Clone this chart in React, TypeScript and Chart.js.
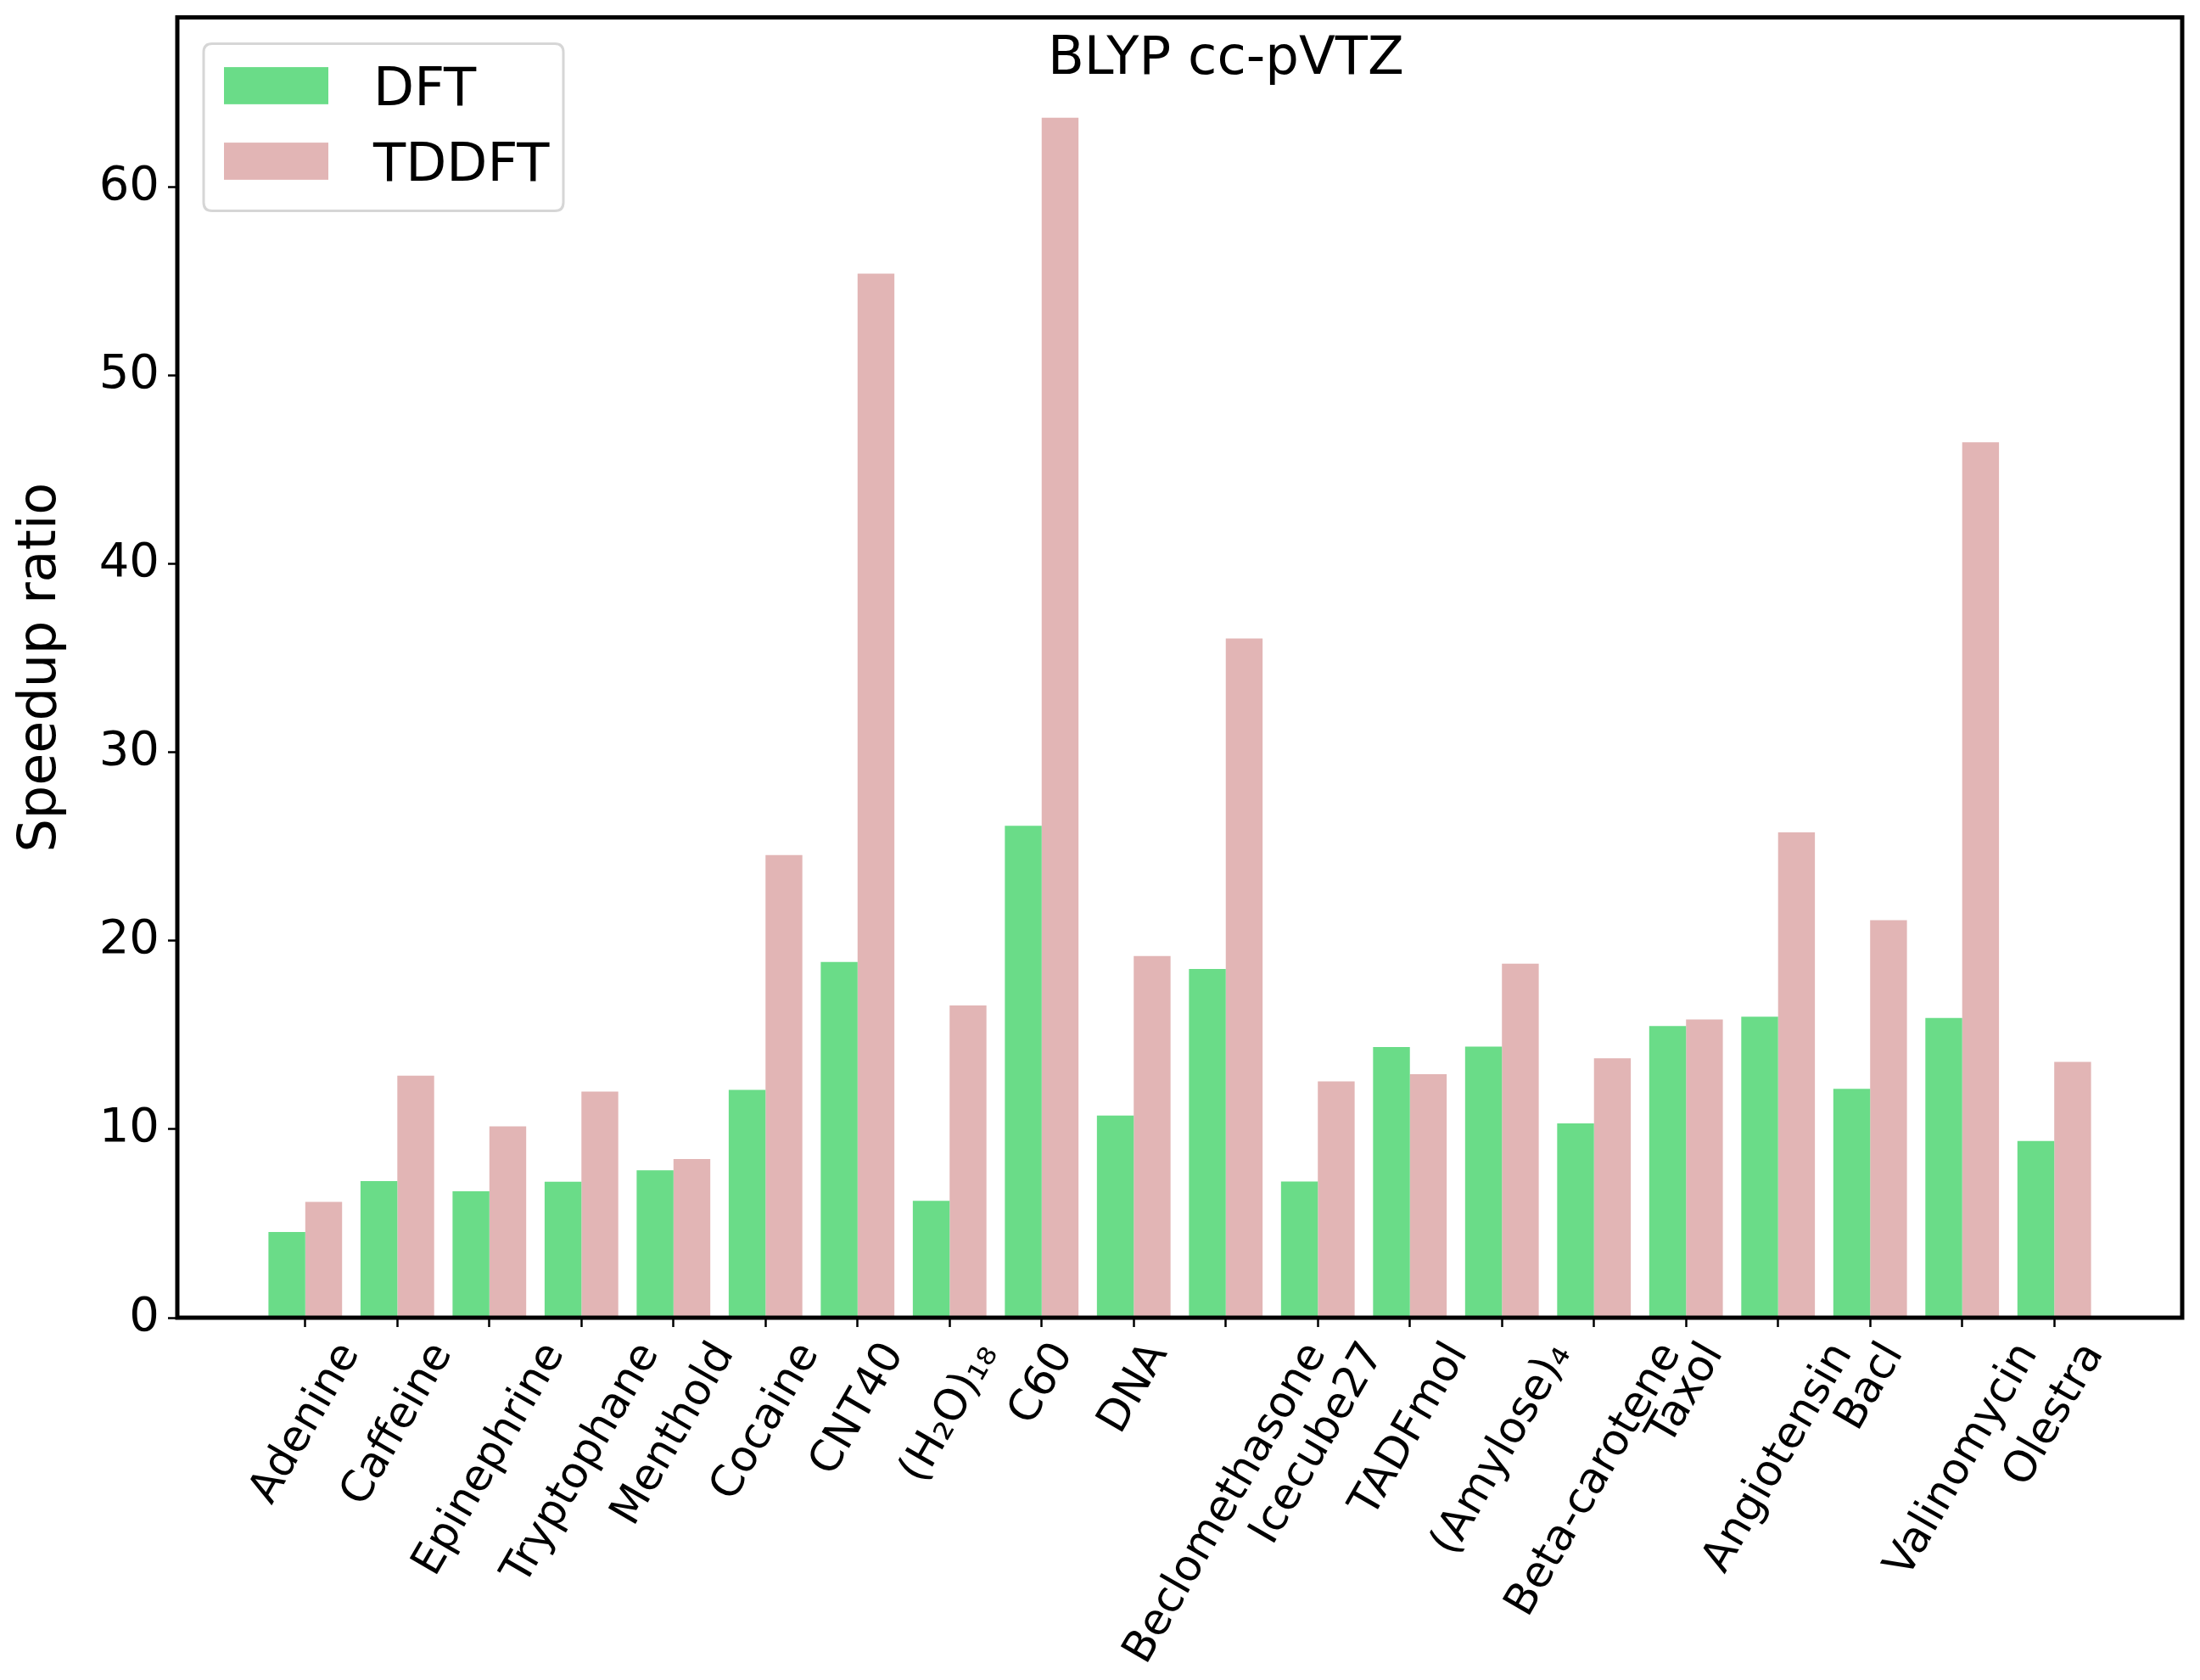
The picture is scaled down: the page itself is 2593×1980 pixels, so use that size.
import React, { useEffect, useRef } from 'react';
import { Chart, registerables } from 'chart.js';

Chart.register(...registerables);

const categories = [
  'Adenine', 'Caffeine', 'Epinephrine', 'Tryptophane', 'Menthold', 'Cocaine', 'CNT40',
  '(H₂O)₁₈', 'C60', 'DNA', 'Beclomethasone', 'Icecube27', 'TADFmol', '(Amylose)₄',
  'Beta-carotene', 'Taxol', 'Angiotensin', 'Bacl', 'Valinomycin', 'Olestra',
];
const dftValues = [
  4.55, 7.25, 6.71, 7.22, 7.82, 12.09, 18.88, 6.2, 26.1, 10.73,
  18.51, 7.23, 14.36, 14.39, 10.31, 15.48, 15.97, 12.15, 15.9, 9.38,
];
const tddftValues = [
  6.15, 12.84, 10.15, 12.0, 8.42, 24.55, 55.4, 16.57, 63.68, 19.19,
  36.04, 12.54, 12.92, 18.79, 13.77, 15.83, 25.75, 21.09, 46.45, 13.58,
];
const seriesLabels = ['DFT', 'TDDFT'];
const seriesColors = ['rgb(106,220,136)', 'rgb(226,181,181)'];
const yTicks = [0, 10, 20, 30, 40, 50, 60];
const chartTitle = 'BLYP cc-pVTZ';
const yAxisTitle = 'Speedup ratio';

const FONT = '"DejaVu Sans", "Liberation Sans", sans-serif';

const overlayPlugin = {
  id: 'overlay',
  afterDatasetsDraw(chart: any) {
    const { ctx, chartArea } = chart;
    const { left, right, top, bottom } = chartArea;
    ctx.save();
    ctx.strokeStyle = '#000';
    ctx.lineWidth = 5;
    ctx.strokeRect(left, top, right - left, bottom - top);
    ctx.restore();
  },
  afterDraw(chart: any) {
    const { ctx, chartArea } = chart;
    const { left, right, top, bottom } = chartArea;
    const W = right - left;

    // Title inside axes
    ctx.save();
    ctx.fillStyle = '#000';
    ctx.font = `62.5px ${FONT}`;
    ctx.textAlign = 'center';
    ctx.textBaseline = 'alphabetic';
    ctx.fillText(chartTitle, left + 0.523 * W, top + 66.5);
    ctx.restore();

    // Legend
    const lf = 62.5;
    const fx = left + 31;
    const fy = top + 31;
    const fw = 424;
    const fh = 197;
    ctx.save();
    ctx.beginPath();
    const r = 10;
    ctx.moveTo(fx + r, fy);
    ctx.lineTo(fx + fw - r, fy);
    ctx.quadraticCurveTo(fx + fw, fy, fx + fw, fy + r);
    ctx.lineTo(fx + fw, fy + fh - r);
    ctx.quadraticCurveTo(fx + fw, fy + fh, fx + fw - r, fy + fh);
    ctx.lineTo(fx + r, fy + fh);
    ctx.quadraticCurveTo(fx, fy + fh, fx, fy + fh - r);
    ctx.lineTo(fx, fy + r);
    ctx.quadraticCurveTo(fx, fy, fx + r, fy);
    ctx.closePath();
    ctx.fillStyle = 'rgba(255,255,255,0.8)';
    ctx.fill();
    ctx.strokeStyle = 'rgb(214,214,214)';
    ctx.lineWidth = 3;
    ctx.stroke();
    chart.data.datasets.forEach((ds: any, i: number) => {
      const cy = fy + 49.5 + i * 89;
      ctx.fillStyle = ds.backgroundColor;
      ctx.fillRect(fx + 24, cy - 21.9, 123, 43.75);
      ctx.fillStyle = '#000';
      ctx.font = `${lf}px ${FONT}`;
      ctx.textAlign = 'left';
      ctx.textBaseline = 'alphabetic';
      ctx.fillText(ds.label, fx + 200, cy + 0.3645 * lf);
    });
    ctx.restore();

    // X tick labels, rotated 60 degrees, bounding box centred on tick
    const xs = chart.scales.x;
    const f = 51;
    const th = Math.PI / 3;
    const H = 0.97 * f;
    const labelTop = bottom + 11 + 11;
    ctx.save();
    ctx.font = `${f}px ${FONT}`;
    ctx.fillStyle = '#000';
    ctx.textAlign = 'left';
    ctx.textBaseline = 'alphabetic';
    categories.forEach((lab, i) => {
      const L = ctx.measureText(lab).width;
      const bh = L * Math.sin(th) + H * Math.cos(th);
      const cx = xs.getPixelForValue(i);
      const cy = labelTop + bh / 2;
      ctx.save();
      ctx.translate(cx, cy);
      ctx.rotate(-th);
      ctx.fillText(lab, -L / 2, 0.276 * f);
      ctx.restore();
    });
    ctx.restore();
  },
};

export default function App() {
  const canvasRef = useRef<HTMLCanvasElement | null>(null);

  useEffect(() => {
    document.body.style.margin = '0';
    const canvas = canvasRef.current;
    if (!canvas) return;
    const chart = new Chart(canvas, {
      type: 'bar',
      data: {
        datasets: [
          {
            label: seriesLabels[0],
            data: dftValues.map((v, i) => ({ x: i, y: v })),
            backgroundColor: seriesColors[0],
            borderWidth: 0,
          },
          {
            label: seriesLabels[1],
            data: tddftValues.map((v, i) => ({ x: i, y: v })),
            backgroundColor: seriesColors[1],
            borderWidth: 0,
          },
        ],
      },
      options: {
        animation: false,
        responsive: false,
        devicePixelRatio: 1,
        layout: { padding: { top: 20.5, right: 21, left: 0, bottom: 0 } },
        datasets: { bar: { categoryPercentage: 0.8, barPercentage: 1.0 } } as any,
        plugins: {
          legend: { display: false },
          title: { display: false },
          tooltip: { enabled: false },
        },
        scales: {
          x: {
            type: 'linear',
            min: -1.39,
            max: 20.39,
            offset: false,
            afterBuildTicks: (s: any) => {
              s.ticks = categories.map((_, i) => ({ value: i }));
            },
            afterFit: (s: any) => {
              s.height = 427;
              s.paddingLeft = 0;
              s.paddingRight = 0;
            },
            ticks: { display: false },
            grid: {
              offset: false,
              drawOnChartArea: false,
              drawTicks: true,
              tickLength: 11,
              tickWidth: 2.5,
              tickColor: '#000',
            },
            border: { display: false },
          } as any,
          y: {
            min: 0,
            max: 69.0,
            afterBuildTicks: (s: any) => {
              s.ticks = yTicks.map((v) => ({ value: v }));
            },
            afterFit: (s: any) => {
              s.width = 209;
              s.paddingTop = 0;
              s.paddingBottom = 0;
            },
            ticks: {
              font: { family: FONT, size: 56 },
              color: '#000',
              padding: 10,
            },
            grid: {
              drawOnChartArea: false,
              drawTicks: true,
              tickLength: 11,
              tickWidth: 2.5,
              tickColor: '#000',
            },
            border: { display: false },
            title: {
              display: true,
              text: yAxisTitle,
              font: { family: FONT, size: 62 },
              color: '#000',
              padding: { top: 12, bottom: 0 },
            },
          } as any,
        },
      },
      plugins: [overlayPlugin],
    });
    return () => chart.destroy();
  }, []);

  return (
    <div style={{ width: 2593, height: 1980, background: '#fff' }}>
      <canvas ref={canvasRef} width={2593} height={1980} style={{ display: 'block', width: 2593, height: 1980 }} />
    </div>
  );
}
